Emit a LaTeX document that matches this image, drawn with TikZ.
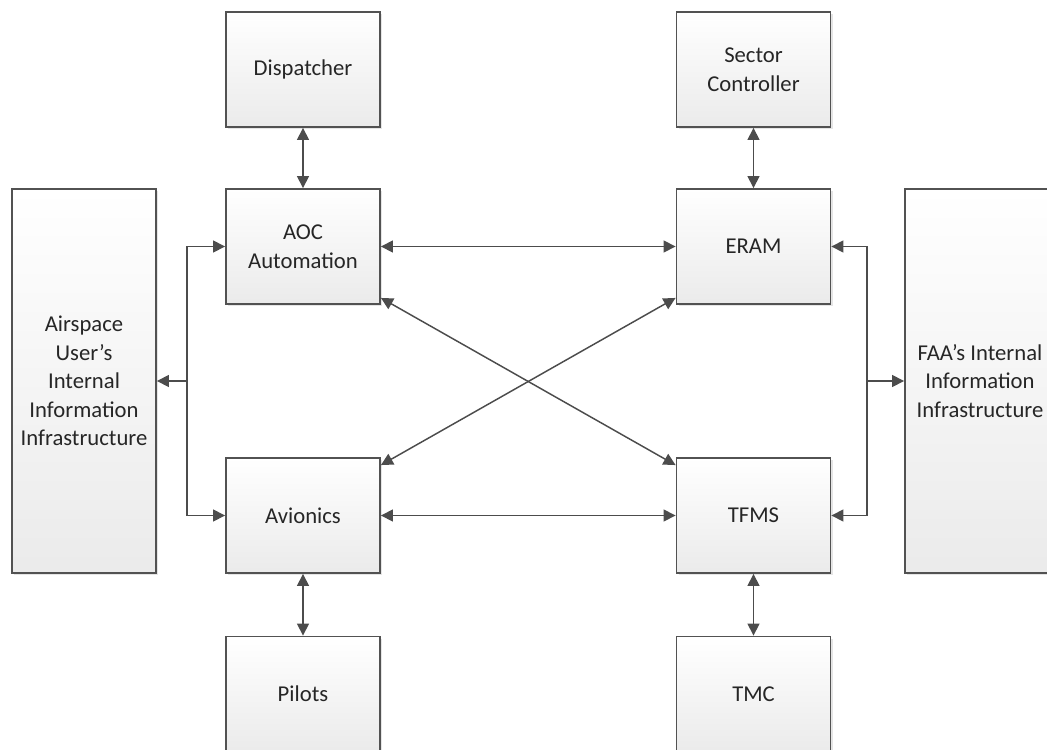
\documentclass[tikz,border=0pt]{standalone}
\usepackage{fontspec}
\setmainfont{Carlito}
\usetikzlibrary{arrows.meta,shadows}
\begin{document}
\begin{tikzpicture}[x=0.75pt,y=-0.75pt,
 box/.style={draw=black!68, line width=1.4pt, top color=white, bottom color=black!8,
   minimum width=115.5pt, minimum height=86.25pt, inner sep=0pt, align=center,
   font=\fontsize{17}{21.4}\selectfont, text=black!85,
   drop shadow={shadow xshift=1.5pt, shadow yshift=-1.5pt, opacity=0.25, fill=black!40}},
 tall/.style={box, minimum width=108pt, minimum height=288pt},
 tip/.tip={Triangle[length=9pt,width=9pt]},
 conn/.style={draw=black!70, line width=1.1pt, tip-tip},
 one/.style={draw=black!70, line width=1.1pt, -tip}]
\useasboundingbox (0,0) rectangle (1047,750);
\node[box] (disp) at (303,69.5) {Dispatcher};
\node[box] (aoc) at (303,246.5) {AOC\\Automation};
\node[box] (avi) at (303,515.5) {Avionics};
\node[box] (pil) at (303,694) {Pilots};
\node[box] (sec) at (753.5,69.5) {Sector\\Controller};
\node[box] (eram) at (753.5,246.5) {ERAM};
\node[box] (tfms) at (753.5,515.5) {TFMS};
\node[box] (tmc) at (753.5,694) {TMC};
\node[tall] (air) at (84,381) {Airspace\\User’s\\Internal\\Information\\Infrastructure};
\node[tall, minimum width=112.5pt] (faa) at (980,381) {FAA’s Internal\\Information\\Infrastructure};
\coordinate (busL) at (187,381);
\coordinate (busR) at (867,381);
\draw[conn] (disp) -- (aoc);
\draw[conn] (sec) -- (eram);
\draw[conn] (avi) -- (pil);
\draw[conn] (tfms) -- (tmc);
\draw[conn] (aoc) -- (eram);
\draw[conn] (avi) -- (tfms);
\draw[one] (busL) -- (air.east);
\draw[one] (busL) |- (aoc.west);
\draw[one] (busL) |- (avi.west);
\draw[one] (busR) -- (faa.west);
\draw[one] (busR) |- (eram.east);
\draw[one] (busR) |- (tfms.east);
\draw[conn] ([yshift=5.25pt]aoc.south east) -- ([yshift=-6pt]tfms.north west);
\draw[conn] ([yshift=-6pt]avi.north east) -- ([yshift=5.25pt]eram.south west);
\end{tikzpicture}
\end{document}
